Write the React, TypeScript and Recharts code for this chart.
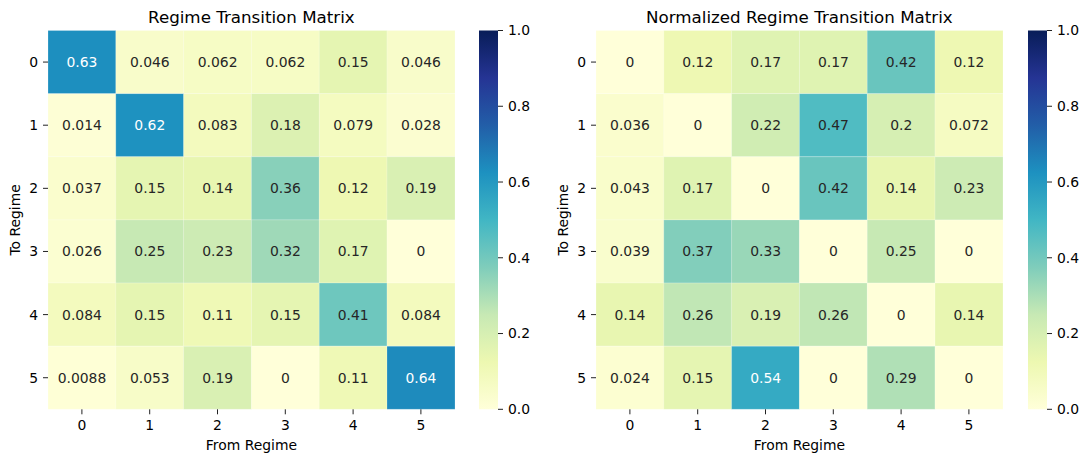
import { BarChart, Bar, XAxis, YAxis, Cell, LabelList, Label } from "recharts";

const regimes = ["0", "1", "2", "3", "4", "5"];

// rows: "to" regime, columns: "from" regime
const transitionMatrix = [
  [0.63, 0.046, 0.062, 0.062, 0.15, 0.046],
  [0.014, 0.62, 0.083, 0.18, 0.079, 0.028],
  [0.037, 0.15, 0.14, 0.36, 0.12, 0.19],
  [0.026, 0.25, 0.23, 0.32, 0.17, 0],
  [0.084, 0.15, 0.11, 0.15, 0.41, 0.084],
  [0.0088, 0.053, 0.19, 0, 0.11, 0.64],
];

const normalizedMatrix = [
  [0, 0.12, 0.17, 0.17, 0.42, 0.12],
  [0.036, 0, 0.22, 0.47, 0.2, 0.072],
  [0.043, 0.17, 0, 0.42, 0.14, 0.23],
  [0.039, 0.37, 0.33, 0, 0.25, 0],
  [0.14, 0.26, 0.19, 0.26, 0, 0.14],
  [0.024, 0.15, 0.54, 0, 0.29, 0],
];

const colorbarTicks = [0, 0.2, 0.4, 0.6, 0.8, 1.0];

// YlGnBu anchor colours, low -> high
const YLGNBU = [
  "#ffffd9", "#edf8b1", "#c7e9b4", "#7fcdbb", "#41b6c4",
  "#1d91c0", "#225ea8", "#253494", "#081d58",
];

const FONT = "DejaVu Sans, sans-serif";
const TEXT_DARK = "#262626";

const hexToRgb = (h: string) => [
  parseInt(h.slice(1, 3), 16),
  parseInt(h.slice(3, 5), 16),
  parseInt(h.slice(5, 7), 16),
];

const ylGnBu = (v: number) => {
  const t = Math.min(Math.max(v, 0), 1) * (YLGNBU.length - 1);
  const i = Math.min(Math.floor(t), YLGNBU.length - 2);
  const f = t - i;
  const a = hexToRgb(YLGNBU[i]);
  const b = hexToRgb(YLGNBU[i + 1]);
  return a.map((c, k) => Math.round(c + (b[k] - c) * f));
};

const toCss = (rgb: number[]) => `rgb(${rgb.join(",")})`;

// same rule seaborn uses to pick the annotation colour
const luminance = (rgb: number[]) => {
  const lin = rgb.map((c) => {
    const s = c / 255;
    return s <= 0.03928 ? s / 12.92 : Math.pow((s + 0.055) / 1.055, 2.4);
  });
  return 0.2126 * lin[0] + 0.7152 * lin[1] + 0.0722 * lin[2];
};

const CellText = (props: any) => {
  const vb = props.viewBox ?? props;
  const { x, y, width, height } = vb;
  const value = Number(props.value);
  const fill = luminance(ylGnBu(value)) < 0.408 ? "#ffffff" : TEXT_DARK;
  return (
    <text
      x={x + width / 2}
      y={y + height / 2}
      dy="0.36em"
      textAnchor="middle"
      fill={fill}
      fontSize={13.9}
      fontFamily={FONT}
    >
      {String(value)}
    </text>
  );
};

const tickStyle = { fill: "#000", fontSize: 13.9, fontFamily: FONT };

interface HeatmapProps {
  matrix: number[][];
  title: string;
  left: number;
}

const Heatmap = ({ matrix, title, left }: HeatmapProps) => {
  const data = regimes.map((col, c) => {
    const entry: Record<string, string | number> = { col };
    regimes.forEach((_, r) => {
      entry[`cell${r}`] = 1;
      entry[`val${r}`] = matrix[r][c];
    });
    return entry;
  });

  return (
    <div style={{ position: "absolute", left, top: 0, width: 470, height: 457 }}>
      <div
        style={{
          position: "absolute",
          left: 48,
          width: 406.8,
          top: 9,
          textAlign: "center",
          fontFamily: FONT,
          fontSize: 16.7,
          lineHeight: "16.7px",
          color: "#000",
        }}
      >
        {title}
      </div>
      <BarChart
        width={470}
        height={457}
        data={data}
        margin={{ top: 30.5, right: 15.2, bottom: 0, left: 0 }}
        barCategoryGap={0}
        barGap={0}
      >
        <XAxis
          dataKey="col"
          height={47.7}
          interval={0}
          axisLine={false}
          tickSize={5}
          tickMargin={6}
          tickLine={{ stroke: "#222" }}
          tick={tickStyle}
        >
          <Label
            content={(p: any) => (
              <text
                x={p.viewBox.x + p.viewBox.width / 2}
                y={p.viewBox.y + 41}
                textAnchor="middle"
                fontSize={13.9}
                fontFamily={FONT}
                fill="#000"
              >
                From Regime
              </text>
            )}
          />
        </XAxis>
        <YAxis
          type="number"
          domain={[0, regimes.length]}
          reversed
          ticks={regimes.map((_, i) => i + 0.5)}
          tickFormatter={(v: number) => regimes[Math.floor(v)]}
          interval={0}
          width={48}
          axisLine={false}
          tickSize={5}
          tickMargin={5}
          tickLine={{ stroke: "#222" }}
          tick={tickStyle}
        >
          <Label
            content={(p: any) => {
              const cx = p.viewBox.x + p.viewBox.width - 28;
              const cy = p.viewBox.y + p.viewBox.height / 2;
              return (
                <text
                  x={cx}
                  y={cy}
                  transform={`rotate(-90, ${cx}, ${cy})`}
                  textAnchor="middle"
                  fontSize={13.9}
                  fontFamily={FONT}
                  fill="#000"
                >
                  To Regime
                </text>
              );
            }}
          />
        </YAxis>
        {regimes.map((_, r) => (
          <Bar
            key={r}
            dataKey={`cell${r}`}
            stackId="grid"
            isAnimationActive={false}
            stroke="rgba(255,255,255,0.35)"
            strokeWidth={0.6}
          >
            {data.map((_, c) => (
              <Cell key={c} fill={toCss(ylGnBu(matrix[r][c]))} />
            ))}
            <LabelList dataKey={`val${r}`} content={CellText} />
          </Bar>
        ))}
      </BarChart>
    </div>
  );
};

interface ColorbarProps {
  left: number;
  id: string;
}

const Colorbar = ({ left, id }: ColorbarProps) => (
  <div style={{ position: "absolute", left, top: 0 }}>
    <BarChart
      width={70}
      height={457}
      data={[{ name: "scale", span: 1 }]}
      margin={{ top: 30.5, right: 0, bottom: 47.7, left: 0 }}
      barCategoryGap={0}
    >
      <defs>
        <linearGradient id={id} x1="0" y1="1" x2="0" y2="0">
          {YLGNBU.map((c, i) => (
            <stop key={i} offset={i / (YLGNBU.length - 1)} stopColor={c} />
          ))}
        </linearGradient>
      </defs>
      <XAxis dataKey="name" hide />
      <YAxis
        orientation="right"
        type="number"
        domain={[0, 1]}
        ticks={colorbarTicks}
        tickFormatter={(v: number) => v.toFixed(1)}
        interval={0}
        width={51}
        axisLine={false}
        tickSize={5}
        tickMargin={5}
        tickLine={{ stroke: "#222" }}
        tick={tickStyle}
      />
      <Bar dataKey="span" fill={`url(#${id})`} isAnimationActive={false} />
    </BarChart>
  </div>
);

export default function App() {
  return (
    <div
      style={{
        position: "absolute",
        left: 0,
        top: 0,
        width: 1084,
        height: 457,
        background: "#fff",
        overflow: "hidden",
      }}
    >
      <Heatmap matrix={transitionMatrix} title="Regime Transition Matrix" left={0} />
      <Colorbar left={479.3} id="cbLeft" />
      <Heatmap matrix={normalizedMatrix} title="Normalized Regime Transition Matrix" left={548} />
      <Colorbar left={1027.5} id="cbRight" />
    </div>
  );
}
